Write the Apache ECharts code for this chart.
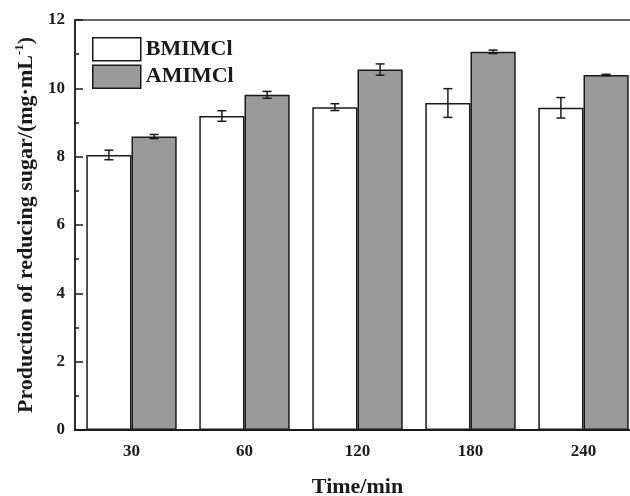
<!DOCTYPE html>
<html>
<head>
<meta charset="utf-8">
<script src="https://cdn.jsdelivr.net/npm/echarts@6/dist/echarts.min.js"></script>
<style>html,body{margin:0;padding:0;background:#fff}#c{width:630px;height:496px}</style>
</head>
<body>
<div id="c"></div>
<script>
const categories = ['30', '60', '120', '180', '240'];
const bmimValues = [8.05, 9.19, 9.45, 9.57, 9.43];
const bmimErr = [0.14, 0.155, 0.10, 0.42, 0.30];
const amimValues = [8.59, 9.81, 10.55, 11.07, 10.39];
const amimErr = [0.06, 0.10, 0.165, 0.05, 0.02];
const yTicks = [0, 2, 4, 6, 8, 10, 12];

const FONT = "'Liberation Serif', 'Times New Roman', serif";
const INK = '#1a1a1a';

const chart = echarts.init(document.getElementById('c'), null, {renderer: 'canvas'});

function errData(vals, errs) {
  return vals.map((v, i) => [i, v, errs[i]]);
}
function makeErr(side) {
  return function (params, api) {
    const idx = api.value(0);
    const v = api.value(1);
    const e = api.value(2);
    const catW = api.size([1, 0])[0];
    const center = api.coord([idx, v]);
    const x = center[0] + side * 0.2 * catW;
    const top = api.coord([idx, v + e])[1];
    const bot = api.coord([idx, v - e])[1];
    const hw = 4.5;
    const style = {stroke: INK, lineWidth: 1.5};
    return {
      type: 'group',
      children: [
        {type: 'line', shape: {x1: x, y1: top, x2: x, y2: bot}, style: style},
        {type: 'line', shape: {x1: x - hw, y1: top, x2: x + hw, y2: top}, style: style},
        {type: 'line', shape: {x1: x - hw, y1: bot, x2: x + hw, y2: bot}, style: style}
      ]
    };
  };
}

const option = {
  animation: false,
  backgroundColor: '#fff',
  grid: {left: 75, top: 20, bottom: 66, right: -10, outerBoundsMode: 'none', containLabel: false,
    show: true, borderColor: '#333', borderWidth: 1.5, backgroundColor: 'transparent'},
  legend: {
    orient: 'vertical', left: 92, top: 37, padding: 0, itemWidth: 48, itemHeight: 23, itemGap: 3,
    icon: 'rect',
    textStyle: {fontFamily: FONT, fontWeight: 'bold', fontSize: 22, color: INK},
    data: [
      {name: 'BMIMCl', itemStyle: {color: '#ffffff', borderColor: INK, borderWidth: 1.5}},
      {name: 'AMIMCl', itemStyle: {color: '#9a9a9a', borderColor: INK, borderWidth: 1.5}}
    ]
  },
  xAxis: [
    {
      type: 'category', data: categories, position: 'bottom',
      name: 'Time/min', nameLocation: 'middle', nameGap: 46,
      nameTextStyle: {fontFamily: FONT, fontWeight: 'bold', fontSize: 22, color: INK},
      axisLine: {lineStyle: {color: INK, width: 2}},
      axisTick: {alignWithLabel: true, length: 8, lineStyle: {color: INK, width: 1.5}},
      axisLabel: {fontFamily: FONT, fontWeight: 'bold', fontSize: 17, color: INK, margin: 13}
    },
    {
      type: 'category', data: categories, position: 'bottom',
      axisLine: {show: false},
      axisTick: {length: 4, lineStyle: {color: INK, width: 1.5}},
      axisLabel: {show: false}
    }
  ],
  yAxis: {
    type: 'value', min: 0, max: 12, interval: 2,
    name: '{a|Production of reducing sugar/(mg·mL}{s|-1}{a|)}',
    nameLocation: 'middle', nameGap: 36,
    nameTextStyle: {
      rich: {
        a: {fontFamily: FONT, fontWeight: 'bold', fontSize: 22, color: INK, lineHeight: 26},
        s: {fontFamily: FONT, fontWeight: 'bold', fontSize: 13, color: INK, verticalAlign: 'top', lineHeight: 26}
      }
    },
    axisLine: {show: true, lineStyle: {color: INK, width: 1.5}},
    axisTick: {show: true, inside: true, length: 8, lineStyle: {color: INK, width: 1.5}},
    minorTick: {show: true, splitNumber: 2, length: 4, lineStyle: {color: INK, width: 1.5}},
    splitLine: {show: false},
    axisLabel: {fontFamily: FONT, fontWeight: 'bold', fontSize: 17, color: INK, margin: 10,
      formatter: v => yTicks.includes(v) ? String(v) : ''}
  },
  series: [
    {
      name: 'BMIMCl', type: 'bar', xAxisIndex: 0, data: bmimValues,
      barWidth: '40%', barGap: '0%',
      itemStyle: {color: '#ffffff', borderColor: INK, borderWidth: 1.5}
    },
    {
      name: 'AMIMCl', type: 'bar', xAxisIndex: 0, data: amimValues,
      barWidth: '40%', barGap: '0%',
      itemStyle: {color: '#9a9a9a', borderColor: INK, borderWidth: 1.5}
    },
    {
      type: 'custom', xAxisIndex: 0, renderItem: makeErr(-1), data: errData(bmimValues, bmimErr), z: 5,
      encode: {x: 0, y: 1}
    },
    {
      type: 'custom', xAxisIndex: 0, renderItem: makeErr(1), data: errData(amimValues, amimErr), z: 5,
      encode: {x: 0, y: 1}
    }
  ]
};
chart.setOption(option);
</script>
</body>
</html>
